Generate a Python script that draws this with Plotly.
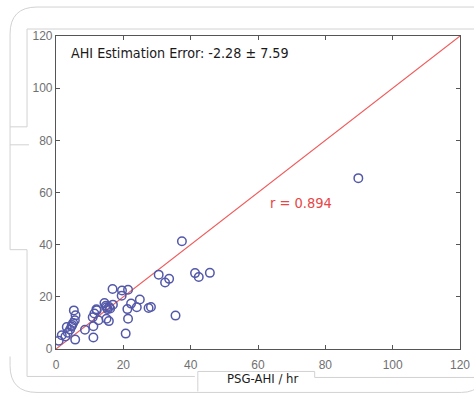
import plotly.graph_objects as go

# PSG-derived AHI (x) vs. estimated AHI (y), events per hour
psg_ahi = [0.8, 1.7, 2.8, 3.5, 4.2, 4.6, 3.2, 5.3, 5.8, 5.6, 5.1, 4.8, 5.7,
           8.6, 11.1, 11.1, 10.9, 11.4, 12.1, 12.6, 12.0, 14.4, 14.8, 15.0,
           15.3, 15.8, 15.0, 15.7, 16.1, 16.9, 16.8, 19.6, 19.5, 21.4, 21.2,
           21.4, 20.7, 22.3, 24.0, 24.9, 27.5, 28.2, 30.5, 32.4, 33.6, 35.5,
           37.4, 41.3, 42.4, 45.7, 89.8]
est_ahi = [3.2, 5.3, 4.8, 6.2, 7.5, 8.6, 8.4, 14.8, 12.9, 11.0, 10.0, 9.2, 3.6,
           7.4, 4.4, 8.7, 12.2, 13.6, 14.9, 11.0, 15.2, 17.6, 16.6, 11.6,
           15.3, 16.1, 16.0, 10.7, 15.5, 17.0, 23.0, 22.4, 20.4, 22.7, 15.3,
           11.6, 5.9, 17.4, 16.0, 19.0, 15.7, 16.1, 28.5, 25.5, 26.9, 12.8,
           41.3, 29.1, 27.6, 29.2, 65.5]
identity = [0, 120]
ticks = [0, 20, 40, 60, 80, 100, 120]

W, H = 474, 409
ML, MR, MT, MB = 56, 13.5, 36, 59.5
PW, PH = W - ML - MR, H - MT - MB


def px(x):
    return (x - ML) / PW


def py(y):
    return (H - MB - y) / PH


fig = go.Figure()
fig.add_trace(go.Scatter(x=identity, y=identity, mode="lines",
                         line=dict(color="#f05a5a", width=1.1),
                         hoverinfo="skip", showlegend=False))
fig.add_trace(go.Scatter(x=psg_ahi, y=est_ahi, mode="markers",
                         marker=dict(symbol="circle-open", size=8.5,
                                     color="#5358a8", line=dict(width=1.5)),
                         showlegend=False))

axis_common = dict(range=[0, 120], tickvals=ticks, ticks="inside", ticklen=4,
                   tickcolor="#555", showline=True, linecolor="#555",
                   linewidth=1.2, mirror="ticks", showgrid=False,
                   zeroline=False, automargin=False,
                   tickfont=dict(family="Liberation Sans, Arial", size=12,
                                 color="#707070"))
fig.update_xaxes(**axis_common, ticklabelstandoff=4)
fig.update_yaxes(**axis_common)

narrow = "DejaVu Sans Condensed, Liberation Sans Narrow, Arial Narrow"
fig.add_annotation(x=3.9, y=113.5, xref="x", yref="y", xanchor="left",
                   yanchor="middle", showarrow=False,
                   text="AHI Estimation Error: -2.28 \u00b1 7.59",
                   font=dict(family=narrow, size=14.2, color="#1a1a1a"))
fig.add_annotation(x=62.9, y=56.0, xref="x", yref="y", xanchor="left",
                   yanchor="middle", showarrow=False, text="r = 0.894",
                   font=dict(family=narrow, size=14.5, color="#e84545"))
fig.add_annotation(x=px(263), y=py(379), xref="paper", yref="paper",
                   xanchor="center", yanchor="middle", showarrow=False,
                   text="PSG-AHI / hr",
                   font=dict(family=narrow, size=13, color="#1a1a1a"))

# page frame: rounded panel outline and label box edges
frame = "#d2d2d2"


def seg(points, color=frame):
    path = "M " + " L ".join(f"{px(a)},{py(b)}" for a, b in points)
    fig.add_shape(type="path", path=path, xref="paper", yref="paper",
                  line=dict(color=color, width=1), layer="below")


r = 27
outer = (f"M {px(10)},{py(250)} L {px(10)},{py(7 + r)} "
         f"Q {px(10)},{py(7)} {px(10 + r)},{py(7)} L {px(500)},{py(7)}")
fig.add_shape(type="path", path=outer, xref="paper", yref="paper",
              line=dict(color=frame, width=1), layer="below")
bottom = (f"M {px(10)},{py(357)} L {px(10)},{py(393 - r)} "
          f"Q {px(10)},{py(393)} {px(10 + r)},{py(393)} L {px(462)},{py(393)} "
          f"Q {px(474)},{py(393)} {px(482)},{py(385)}")
fig.add_shape(type="path", path=bottom, xref="paper", yref="paper",
              line=dict(color=frame, width=1), layer="below")
seg([(27, 29), (500, 29)])
seg([(10, 127), (27, 127), (27, 29)])
seg([(10, 145), (29, 145)])
seg([(10, 250), (27, 250), (27, 377), (195, 377)])
seg([(198, 392), (198, 372), (315, 372), (315, 378), (500, 378)])

fig.update_layout(width=W, height=H,
                  margin=dict(l=ML, r=MR, t=MT, b=MB, pad=0),
                  plot_bgcolor="white", paper_bgcolor="white")

fig.write_html("out.html")
